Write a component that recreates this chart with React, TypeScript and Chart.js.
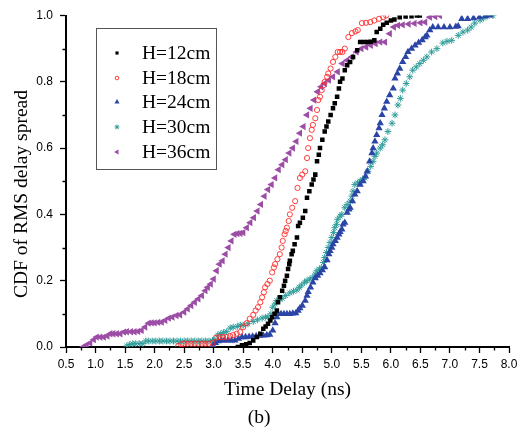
import React, { useEffect, useRef } from "react";
import { Chart, registerables } from "chart.js";
import { drawPoint } from "chart.js/helpers";

Chart.register(...registerables);

const seriesLabels = ["H=12cm", "H=18cm", "H=24cm", "H=30cm", "H=36cm"];

const xTickLabels = ["0.5","1.0","1.5","2.0","2.5","3.0","3.5","4.0","4.5","5.0","5.5","6.0","6.5","7.0","7.5","8.0"];
const yTickLabels = ["0.0","0.2","0.4","0.6","0.8","1.0"];

const h12X = [3.41,3.48,3.55,3.61,3.67,3.73,3.79,3.84,3.88,3.92,3.96,3.99,4.03,4.07,4.09,4.12,4.16,4.19,4.21,4.24,4.26,4.28,4.29,4.32,4.34,4.37,4.41,4.43,4.46,4.51,4.55,4.58,4.62,4.66,4.69,4.72,4.75,4.78,4.8,4.84,4.88,4.91,4.94,4.98,5.02,5.05,5.09,5.12,5.14,5.18,5.22,5.26,5.31,5.36,5.43,5.48,5.54,5.6,5.66,5.72,5.76,5.82,5.87,5.93,6.0,6.06,6.15,6.25,6.35,6.44,6.49];
const h12Y = [0.0,0.005,0.008,0.012,0.02,0.03,0.04,0.055,0.062,0.07,0.08,0.09,0.1,0.11,0.135,0.15,0.17,0.185,0.2,0.215,0.235,0.25,0.26,0.28,0.29,0.31,0.33,0.365,0.375,0.39,0.41,0.45,0.47,0.49,0.505,0.52,0.56,0.58,0.6,0.625,0.65,0.665,0.68,0.7,0.72,0.735,0.755,0.78,0.8,0.81,0.835,0.85,0.86,0.875,0.895,0.92,0.92,0.92,0.921,0.925,0.95,0.96,0.972,0.978,0.985,0.988,0.995,0.997,0.998,1.0,1.0];

const h18X = [2.4,2.45,2.5,2.56,2.62,2.68,2.74,2.8,2.86,2.92,2.98,3.04,3.1,3.16,3.22,3.28,3.33,3.39,3.45,3.5,3.56,3.61,3.67,3.71,3.75,3.79,3.82,3.85,3.87,3.91,3.95,3.99,4.02,4.04,4.08,4.12,4.15,4.17,4.2,4.22,4.24,4.27,4.29,4.33,4.38,4.42,4.46,4.5,4.55,4.58,4.6,4.63,4.66,4.68,4.72,4.75,4.77,4.8,4.83,4.86,4.88,4.92,4.94,4.98,5.02,5.06,5.1,5.14,5.18,5.22,5.28,5.34,5.4,5.44,5.51,5.58,5.65,5.72,5.8,5.87,5.92];
const h18Y = [0.003,0.008,0.01,0.01,0.01,0.01,0.01,0.01,0.01,0.01,0.012,0.028,0.03,0.03,0.03,0.033,0.036,0.04,0.045,0.06,0.072,0.085,0.097,0.11,0.12,0.135,0.15,0.165,0.18,0.19,0.2,0.225,0.24,0.25,0.265,0.28,0.3,0.32,0.34,0.35,0.36,0.38,0.4,0.42,0.44,0.48,0.51,0.52,0.53,0.57,0.6,0.63,0.655,0.67,0.69,0.715,0.745,0.755,0.775,0.79,0.8,0.815,0.825,0.84,0.86,0.875,0.89,0.89,0.89,0.9,0.935,0.947,0.952,0.956,0.977,0.978,0.98,0.985,0.99,0.995,1.0];

const h24X = [2.99,3.03,3.08,3.13,3.18,3.24,3.3,3.36,3.42,3.48,3.54,3.6,3.66,3.72,3.78,3.84,3.9,3.95,4.0,4.04,4.07,4.09,4.14,4.19,4.24,4.29,4.34,4.39,4.43,4.46,4.5,4.55,4.58,4.6,4.64,4.68,4.72,4.76,4.8,4.84,4.88,4.92,4.95,4.97,5.0,5.02,5.06,5.09,5.12,5.14,5.17,5.19,5.22,5.26,5.29,5.31,5.35,5.39,5.43,5.48,5.53,5.57,5.6,5.64,5.68,5.7,5.73,5.76,5.8,5.82,5.85,5.89,5.93,5.98,6.04,6.07,6.11,6.15,6.2,6.25,6.29,6.35,6.41,6.47,6.53,6.58,6.61,6.66,6.71,6.8,6.9,7.0,7.1,7.14,7.2,7.3,7.4,7.5,7.6,7.68];
const h24Y = [0.005,0.012,0.018,0.02,0.02,0.02,0.02,0.02,0.025,0.03,0.03,0.031,0.032,0.033,0.034,0.035,0.036,0.037,0.05,0.072,0.09,0.1,0.1,0.1,0.1,0.1,0.101,0.102,0.11,0.117,0.125,0.14,0.155,0.166,0.18,0.195,0.208,0.215,0.223,0.232,0.241,0.262,0.28,0.29,0.3,0.31,0.32,0.33,0.34,0.347,0.355,0.37,0.375,0.405,0.415,0.42,0.44,0.46,0.47,0.49,0.5,0.515,0.53,0.56,0.585,0.6,0.62,0.64,0.66,0.675,0.7,0.72,0.74,0.76,0.78,0.81,0.825,0.84,0.86,0.875,0.89,0.9,0.91,0.918,0.926,0.935,0.94,0.956,0.965,0.965,0.965,0.965,0.966,0.968,0.99,0.99,0.992,0.995,0.998,1.0];

const h30X = [1.53,1.58,1.63,1.68,1.74,1.8,1.85,1.9,1.96,2.02,2.08,2.14,2.2,2.26,2.32,2.38,2.44,2.5,2.56,2.62,2.68,2.74,2.8,2.86,2.92,2.98,3.02,3.07,3.12,3.17,3.22,3.28,3.33,3.4,3.45,3.5,3.58,3.67,3.74,3.82,3.88,3.92,3.97,4.0,4.04,4.07,4.12,4.16,4.22,4.29,4.35,4.41,4.45,4.49,4.54,4.58,4.63,4.68,4.72,4.75,4.79,4.83,4.86,4.88,4.91,4.94,4.97,5.0,5.03,5.05,5.08,5.1,5.14,5.17,5.22,5.26,5.31,5.34,5.36,5.39,5.44,5.48,5.52,5.56,5.61,5.66,5.7,5.73,5.76,5.82,5.86,5.9,5.95,6.02,6.07,6.12,6.16,6.2,6.26,6.32,6.37,6.43,6.49,6.55,6.61,6.69,6.78,6.88,6.95,7.03,7.14,7.22,7.3,7.36,7.42,7.51,7.57,7.63,7.73];
const h30Y = [0.003,0.008,0.01,0.01,0.01,0.01,0.018,0.018,0.018,0.018,0.018,0.018,0.018,0.018,0.018,0.018,0.018,0.018,0.018,0.018,0.018,0.018,0.018,0.018,0.018,0.019,0.022,0.036,0.04,0.044,0.046,0.057,0.06,0.062,0.066,0.066,0.07,0.077,0.082,0.087,0.09,0.09,0.1,0.12,0.13,0.14,0.145,0.147,0.155,0.163,0.168,0.172,0.18,0.187,0.195,0.2,0.205,0.21,0.22,0.23,0.235,0.24,0.255,0.27,0.285,0.3,0.315,0.33,0.345,0.36,0.37,0.385,0.395,0.4,0.42,0.43,0.44,0.455,0.47,0.49,0.495,0.5,0.505,0.51,0.53,0.545,0.56,0.575,0.585,0.6,0.61,0.625,0.65,0.675,0.7,0.73,0.75,0.775,0.795,0.815,0.835,0.845,0.855,0.865,0.875,0.89,0.9,0.917,0.922,0.925,0.94,0.95,0.956,0.965,0.977,0.986,0.992,0.998,1.0];

const h36X = [0.79,0.85,0.91,0.97,1.02,1.08,1.14,1.2,1.25,1.3,1.36,1.42,1.48,1.53,1.6,1.66,1.72,1.78,1.84,1.9,1.95,2.0,2.06,2.12,2.18,2.24,2.3,2.37,2.43,2.5,2.56,2.62,2.68,2.74,2.8,2.86,2.9,2.95,3.0,3.05,3.1,3.15,3.2,3.25,3.3,3.35,3.4,3.45,3.5,3.56,3.62,3.68,3.74,3.8,3.86,3.92,3.98,4.04,4.1,4.16,4.22,4.28,4.34,4.4,4.46,4.52,4.58,4.64,4.7,4.76,4.82,4.88,4.95,5.02,5.1,5.18,5.26,5.34,5.42,5.5,5.58,5.66,5.74,5.82,5.9,5.98,6.05,6.12,6.2,6.3,6.4,6.5,6.58,6.66,6.75,6.83];
const h36Y = [0.0,0.006,0.012,0.022,0.03,0.03,0.03,0.033,0.04,0.04,0.04,0.04,0.045,0.046,0.046,0.046,0.047,0.05,0.06,0.072,0.073,0.073,0.074,0.075,0.08,0.087,0.09,0.095,0.097,0.105,0.115,0.125,0.135,0.145,0.155,0.17,0.18,0.19,0.205,0.23,0.25,0.26,0.28,0.3,0.32,0.34,0.342,0.343,0.345,0.36,0.375,0.39,0.41,0.43,0.455,0.475,0.49,0.51,0.535,0.55,0.565,0.585,0.6,0.62,0.645,0.665,0.7,0.72,0.745,0.77,0.785,0.795,0.805,0.815,0.83,0.855,0.865,0.875,0.89,0.9,0.905,0.91,0.915,0.92,0.92,0.945,0.965,0.97,0.972,0.974,0.976,0.978,0.98,0.995,0.997,1.0];

const seriesX = [h12X, h18X, h24X, h30X, h36X];
const seriesY = [h12Y, h18Y, h24Y, h30Y, h36Y];

const styles = [
  { pointStyle: "rect", radius: 3.2, fill: "#000000", stroke: "#000000", bw: 0, rotation: 0 },
  { pointStyle: "circle", radius: 2.6, fill: "rgba(0,0,0,0)", stroke: "#ff2a2a", bw: 0.9, rotation: 0 },
  { pointStyle: "triangle", radius: 4.2, fill: "#2b45a6", stroke: "#2b45a6", bw: 0, rotation: 0 },
  { pointStyle: "star", radius: 3.4, fill: "rgba(0,0,0,0)", stroke: "#2f9d9a", bw: 1, rotation: 0 },
  { pointStyle: "triangle", radius: 4.2, fill: "#9c4da6", stroke: "#9c4da6", bw: 0, rotation: -90 },
];

const SERIF = '"Liberation Serif", "Times New Roman", serif';
const SANS = '"Liberation Sans", Arial, sans-serif';
const xTitle = "Time Delay (ns)";
const yTitle = "CDF of RMS delay spread";
const panelLabel = "(b)";

const extrasPlugin = {
  id: "extras",
  afterDraw(chart: any) {
    const ctx = chart.ctx;
    const xs = chart.scales.x;
    const ys = chart.scales.y;
    const area = chart.chartArea;
    ctx.save();
    // minor ticks
    ctx.strokeStyle = "#000";
    ctx.lineWidth = 1.3;
    ctx.beginPath();
    for (let i = 0; i < xTickLabels.length - 1; i++) {
      const v = parseFloat(xTickLabels[i]) + 0.25;
      const px = Math.round(xs.getPixelForValue(v)) + 0.5;
      ctx.moveTo(px, area.bottom);
      ctx.lineTo(px, area.bottom + 3.5);
    }
    for (let i = 0; i < yTickLabels.length - 1; i++) {
      const v = parseFloat(yTickLabels[i]) + 0.1;
      const py = Math.round(ys.getPixelForValue(v)) + 0.5;
      ctx.moveTo(area.left, py);
      ctx.lineTo(area.left - 3.5, py);
    }
    ctx.stroke();
    ctx.fillStyle = "#000";
    ctx.font = "19.5px " + SERIF;
    // x title
    ctx.textAlign = "center";
    ctx.textBaseline = "alphabetic";
    ctx.fillText(xTitle, (area.left + area.right) / 2, 395);
    // panel label
    ctx.fillText(panelLabel, 259, 423);
    // y title
    ctx.save();
    ctx.translate(26.5, 194);
    ctx.rotate(-Math.PI / 2);
    ctx.textAlign = "center";
    ctx.textBaseline = "alphabetic";
    ctx.fillText(yTitle, 0, 0);
    ctx.restore();
    // legend
    const bx = 96.5, by = 28.5, bw = 120, bh = 141;
    ctx.strokeStyle = "#555";
    ctx.lineWidth = 1;
    ctx.strokeRect(bx, by, bw, bh);
    const rows = [53, 78, 102, 127, 152];
    ctx.textBaseline = "middle";
    ctx.textAlign = "left";
    for (let i = 0; i < seriesLabels.length; i++) {
      const s = styles[i];
      ctx.fillStyle = s.fill;
      ctx.strokeStyle = s.stroke;
      ctx.lineWidth = s.bw;
      drawPoint(ctx, { pointStyle: s.pointStyle, radius: s.radius * 0.7, rotation: s.rotation, borderWidth: s.bw }, 117, rows[i]);
      ctx.fillStyle = "#000";
      ctx.fillText(seriesLabels[i], 142, rows[i] + 1);
    }
    ctx.restore();
  },
};

export default function App() {
  const ref = useRef<HTMLCanvasElement | null>(null);
  useEffect(() => {
    document.body.style.margin = "0";
    const canvas = ref.current;
    if (!canvas) return;
    const datasets = seriesLabels.map((label, i) => ({
      label,
      data: seriesX[i].map((x, j) => ({ x, y: seriesY[i][j] })),
      showLine: false,
      pointStyle: styles[i].pointStyle as any,
      pointRadius: styles[i].radius,
      pointRotation: styles[i].rotation,
      pointBackgroundColor: styles[i].fill,
      pointBorderColor: styles[i].stroke,
      pointBorderWidth: styles[i].bw,
      backgroundColor: styles[i].fill,
      borderColor: styles[i].stroke,
    }));
    const chart = new Chart(canvas, {
      type: "scatter",
      data: { datasets },
      options: {
        animation: false,
        responsive: false,
        devicePixelRatio: 1,
        layout: { padding: { left: 0, right: 9, top: 15.5, bottom: 0 } },
        plugins: { legend: { display: false }, tooltip: { enabled: false } },
        scales: {
          x: {
            type: "linear",
            min: 0.5,
            max: 8.0,
            afterBuildTicks: (axis: any) => {
              axis.ticks = xTickLabels.map((t) => ({ value: parseFloat(t) }));
            },
            afterFit: (axis: any) => {
              axis.height = 83;
              axis.paddingLeft = 0;
              axis.paddingRight = 0;
            },
            ticks: {
              padding: 4,
              color: "#000",
              font: { family: SANS, size: 12 },
              maxRotation: 0,
              autoSkip: false,
              callback: (v: any) => Number(v).toFixed(1),
            },
            grid: { drawOnChartArea: false, drawTicks: true, tickLength: 6, tickColor: "#000", tickWidth: 1.3 },
            border: { display: true, color: "#000", width: 2 },
            title: { display: false },
          },
          y: {
            type: "linear",
            min: 0,
            max: 1.0,
            afterBuildTicks: (axis: any) => {
              axis.ticks = yTickLabels.map((t) => ({ value: parseFloat(t) }));
            },
            afterFit: (axis: any) => {
              axis.width = 66;
              axis.paddingTop = 0;
              axis.paddingBottom = 0;
            },
            ticks: {
              padding: 7,
              color: "#000",
              font: { family: SANS, size: 12 },
              autoSkip: false,
              callback: (v: any) => Number(v).toFixed(1),
            },
            grid: { drawOnChartArea: false, drawTicks: true, tickLength: 6, tickColor: "#000", tickWidth: 1.3 },
            border: { display: true, color: "#000", width: 2 },
            title: { display: false },
          },
        },
      },
      plugins: [extrasPlugin],
    });
    return () => chart.destroy();
  }, []);
  return (
    <div style={{ position: "relative", width: 518, height: 430, background: "#fff" }}>
      <canvas ref={ref} width={518} height={430} style={{ width: 518, height: 430, display: "block" }} />
    </div>
  );
}
